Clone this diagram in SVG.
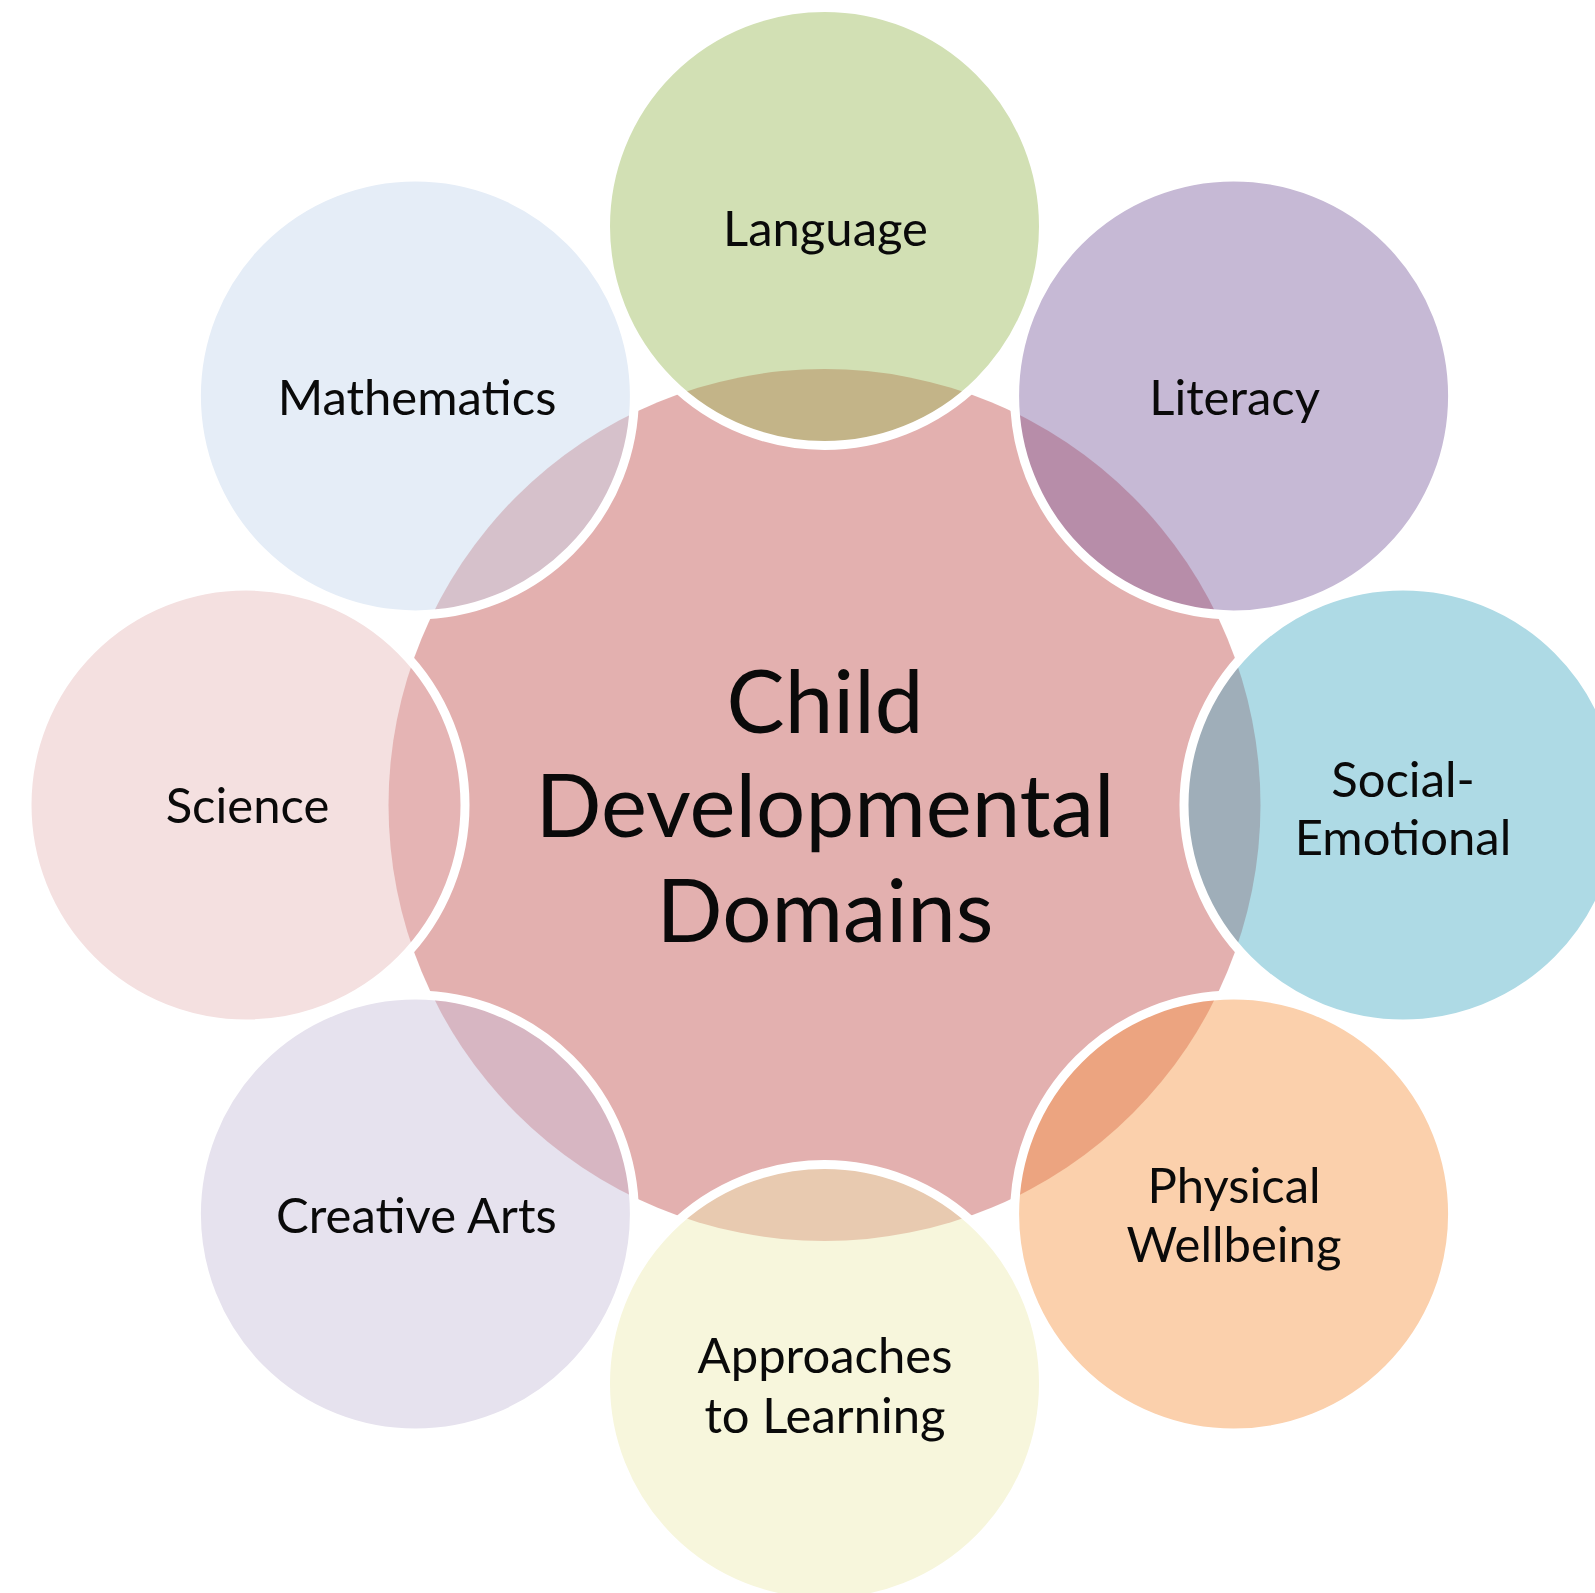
<svg xmlns="http://www.w3.org/2000/svg" width="1595" height="1593" viewBox="0 0 1595 1593">
<style>
.hub{fill:#c0504d;fill-opacity:0.45}
.sat{fill-opacity:0.45;stroke:#ffffff;stroke-width:9}
.lbl{font-family:Lato,"Liberation Sans",sans-serif;font-size:49px;fill:#0a0a0a;text-anchor:middle}
.big{font-family:Lato,"Liberation Sans",sans-serif;font-size:87px;fill:#0a0a0a;text-anchor:middle}
</style>
<rect width="1595" height="1593" fill="#ffffff"/>
<g id="connectors"></g>
<g id="hub">
<circle class="hub" cx="824.5" cy="805" r="436"/>
<text class="big" x="825" y="733">Child</text>
<text class="big" x="825" y="837">Developmental</text>
<text class="big" x="825" y="942">Domains</text>
</g>
<g id="language">
<circle class="sat" cx="824.5" cy="226.5" r="219" fill="#9bbb59"/>
<text class="lbl" x="825.5" y="246">Language</text>
</g>
<g id="literacy">
<circle class="sat" cx="1233.6" cy="395.9" r="219" fill="#8064a2"/>
<text class="lbl" x="1234.6" y="415">Literacy</text>
</g>
<g id="social-emotional">
<circle class="sat" cx="1403" cy="805" r="219" fill="#4bacc6"/>
<text class="lbl" x="1403" y="797">Social-</text>
<text class="lbl" x="1403" y="855">Emotional</text>
</g>
<g id="physical-wellbeing">
<circle class="sat" cx="1233.6" cy="1214.1" r="219" fill="#f79646"/>
<text class="lbl" x="1234" y="1203">Physical</text>
<text class="lbl" x="1234" y="1262">Wellbeing</text>
</g>
<g id="approaches-to-learning">
<circle class="sat" cx="824.5" cy="1383.5" r="219" fill="#edebb1"/>
<text class="lbl" x="825" y="1373">Approaches</text>
<text class="lbl" x="825" y="1433">to Learning</text>
</g>
<g id="creative-arts">
<circle class="sat" cx="415.4" cy="1214.1" r="219" fill="#c7bfd9"/>
<text class="lbl" x="416.4" y="1233">Creative Arts</text>
</g>
<g id="science">
<circle class="sat" cx="246" cy="805" r="219" fill="#e7baba"/>
<text class="lbl" x="247.5" y="823">Science</text>
</g>
<g id="mathematics">
<circle class="sat" cx="415.4" cy="395.9" r="219" fill="#c5d7ed"/>
<text class="lbl" x="417" y="415">Mathematics</text>
</g>
</svg>
